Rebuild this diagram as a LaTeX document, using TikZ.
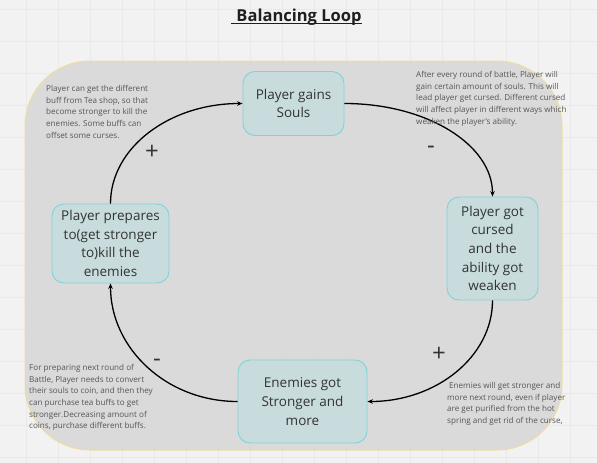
\documentclass[tikz,border=0pt]{standalone}
\usepackage{fontspec}
\setmainfont{Open Sans}
\usetikzlibrary{arrows.meta}
\definecolor{canvas}{HTML}{F2F2F2}
\definecolor{gridc}{HTML}{E9E9E9}
\definecolor{panel}{HTML}{D8D8D8}
\definecolor{panelborder}{HTML}{F0DCA0}
\definecolor{boxfill}{HTML}{C8DCDD}
\definecolor{boxborder}{HTML}{7FD3D7}
\definecolor{txt}{HTML}{333333}
\definecolor{note}{HTML}{555555}
\begin{document}
\begin{tikzpicture}[x=1pt,y=-1pt,
  loopbox/.style={draw=boxborder, fill=boxfill, line width=0.9pt, rounded corners=12pt,
    inner sep=0pt, align=center, text=txt, font=\fontsize{13.5}{18.7}\selectfont},
  notetext/.style={anchor=north west, inner sep=0pt, align=left, text=note,
    font=\fontsize{8.1}{11.7}\selectfont},
  sign/.style={anchor=base, inner sep=0pt, text=txt, font=\fontsize{24}{24}\selectfont},
  flow/.style={line width=1.3pt, -{Stealth[length=5.5pt,width=4.5pt]}},
  gridline/.style={gridc, line width=0.6pt}]
\useasboundingbox (0,0) rectangle (597,463);
\fill[canvas] (0,0) rectangle (597,463);
\foreach \x in {26,58,...,597} \draw[gridline] (\x,0) -- (\x,463);
\foreach \y in {9,41,...,463} \draw[gridline] (0,\y) -- (597,\y);
% panel
\draw[draw=panelborder, line width=1pt, fill=panel, fill opacity=0.92, rounded corners=65pt]
  (25,61) rectangle (562,450);
% title
\node[anchor=base, inner sep=0pt, text=black!88, font=\fontsize{16.5}{20}\selectfont\bfseries]
  (title) at (299,21) {Balancing Loop};
\draw[black!88, line width=1.1pt] ([xshift=-5pt,yshift=-2.6pt]title.base west) -- ([yshift=-2.6pt]title.base east);
% nodes
\node[loopbox, minimum width=101pt, minimum height=64pt] (souls) at (293.5,103.5) {Player gains\\Souls};
\node[loopbox, minimum width=91pt, minimum height=103pt] (cursed) at (492.5,248.5) {Player got\\cursed\\and the\\ability got\\weaken};
\node[loopbox, minimum width=129pt, minimum height=83pt] (enemies) at (302.5,401.5) {Enemies got\\Stronger and\\more};
\node[loopbox, minimum width=117pt, minimum height=79pt] (prepare) at (110.5,243.5) {Player prepares\\to(get stronger\\to)kill the\\enemies};
% connectors
\draw[flow] (souls.east) .. controls +(82,0) and +(0,-52) .. (cursed.north);
\draw[flow] (cursed.south) .. controls +(0,56) and +(69,0) .. (enemies.east);
\draw[flow] (enemies.west) .. controls +(-71,0) and +(0,65) .. (prepare.south);
\draw[flow] (prepare.north) .. controls +(0,-56) and +(-73,0) .. (souls.west);
% signs
\node[sign] (s1) at (152,159.5) {+};
\node[sign] (s2) at (431,153.6) {-};
\node[sign] (s3) at (157,366.6) {-};
\node[sign] (s4) at (439,361.5) {+};
% notes
\node[notetext] (n1) at (46,85) {Player can get the different\\buff from Tea shop, so that\\become stronger to kill the\\enemies. Some buffs can\\offset some curses.};
\node[notetext] (n2) at (416,71) {After every round of battle, Player will\\gain certain amount of souls. This will\\lead player get cursed. Different cursed\\will affect player in different ways which\\weaken the player's ability.};
\node[notetext] (n3) at (29,364) {For preparing next round of\\Battle, Player needs to convert\\their souls to coin, and then they\\can purchase tea buffs to get\\stronger.Decreasing amount of\\coins, purchase different buffs.};
\node[notetext] (n4) at (447,382) {\hspace*{2pt}Enemies will get stronger and\\more next round, even if player\\are get purified from the hot\\spring and get rid of the curse,};
\end{tikzpicture}
\end{document}
